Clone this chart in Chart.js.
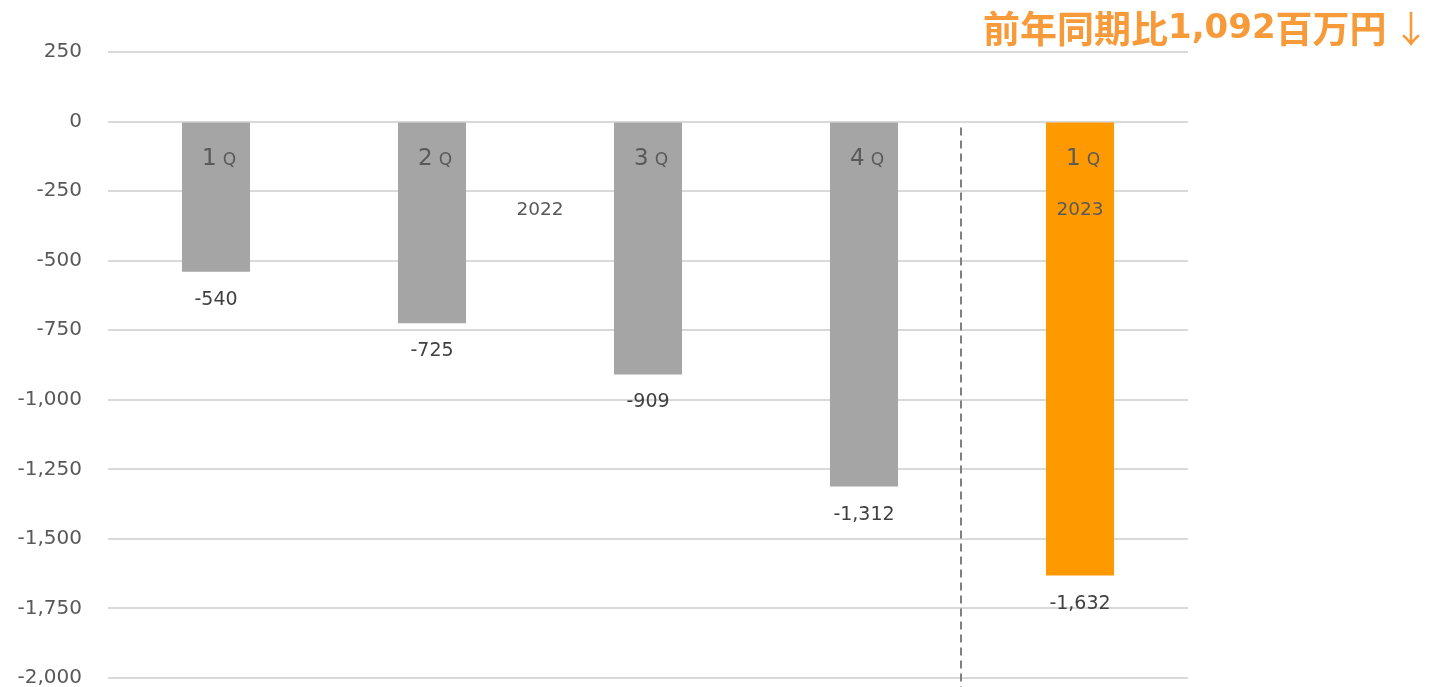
<!DOCTYPE html>
<html>
<head>
<meta charset="utf-8">
<script src="https://cdn.jsdelivr.net/npm/chart.js@4/dist/chart.umd.min.js"></script>
<style>
  body { margin: 0; background: #fff; }
  canvas { display: block; }
</style>
</head>
<body>
<canvas id="lossChart" width="1429" height="687"></canvas>
<script>
// ---------------- DATA ----------------
const categories = ["2022 1Q", "2022 2Q", "2022 3Q", "2022 4Q", "2023 1Q"];
const quarterNums = ["1", "2", "3", "4", "1"];
const values = [-540, -725, -909, -1312, -1632];
const yearLabels = ["2022", "2023"];
const yTicks = [250, 0, -250, -500, -750, -1000, -1250, -1500, -1750, -2000];
// headline split so digits can use a wider face
const headlineParts = ["前年同期比", "1,092", "百万円", "↓"];

const barColors = ["#A5A5A5", "#A5A5A5", "#A5A5A5", "#A5A5A5", "#FF9900"];
const fmt = v => v.toLocaleString("en-US");

// ---------------- LABELS PLUGIN ----------------
const labelPlugin = {
    id: "labels",
    afterDatasetsDraw(chart) {
        const { ctx } = chart;
        const x = chart.scales.x;
        const y = chart.scales.y;
        const zero = y.getPixelForValue(0);
        const bars = chart.getDatasetMeta(0).data;

        ctx.save();
        ctx.textBaseline = "middle";

        bars.forEach((bar, i) => {
            // value under bar
            ctx.font = "19px 'DejaVu Sans'";
            ctx.fillStyle = "#404040";
            ctx.textAlign = "center";
            ctx.fillText(fmt(values[i]), bar.x, bar.y + 28);

            // "1Q" in bar top
            ctx.fillStyle = "#595959";
            ctx.textBaseline = "alphabetic";
            ctx.font = "23px 'DejaVu Sans'";
            const numW = ctx.measureText(quarterNums[i]).width;
            ctx.font = "17px 'DejaVu Sans'";
            const qW = ctx.measureText("Q").width;
            const gap = 6;
            const startX = bar.x + 3 - (numW + gap + qW) / 2;
            ctx.textAlign = "left";
            ctx.font = "23px 'DejaVu Sans'";
            ctx.fillText(quarterNums[i], startX, zero + 43);
            ctx.font = "17px 'DejaVu Sans'";
            ctx.fillText("Q", startX + numW + gap, zero + 43);
            ctx.textBaseline = "middle";
        });

        // year labels
        ctx.font = "18.5px 'DejaVu Sans'";
        ctx.fillStyle = "#595959";
        ctx.textAlign = "center";
        const x2022 = (x.getPixelForValue(1) + x.getPixelForValue(2)) / 2;
        ctx.fillText(yearLabels[0], x2022, zero + 89);
        ctx.fillText(yearLabels[1], x.getPixelForValue(4), zero + 89);

        // divider
        const dx = Math.round(x.getPixelForValue(3.45));
        ctx.strokeStyle = "#808080";
        ctx.lineWidth = 2;
        ctx.setLineDash([8, 5]);
        ctx.beginPath();
        ctx.moveTo(dx, zero + 6);
        ctx.lineTo(dx, chart.height);
        ctx.stroke();
        ctx.setLineDash([]);

        // headline
        const fonts = [
            "bold 37px 'Noto Sans CJK JP'",
            "bold 34px 'DejaVu Sans'",
            "bold 37px 'Noto Sans CJK JP'",
            "37px 'Noto Sans CJK JP'"
        ];
        ctx.fillStyle = "#F79A3A";
        ctx.textAlign = "left";
        let hx = 983;
        headlineParts.forEach((part, i) => {
            ctx.font = fonts[i];
            if (i === 3) hx += 6;
            ctx.fillText(part, hx, 29);
            hx += ctx.measureText(part).width;
        });

        ctx.restore();
    }
};

// ---------------- CHART ----------------
new Chart(document.getElementById("lossChart"), {
    type: "bar",
    data: {
        labels: categories,
        datasets: [{
            data: values,
            backgroundColor: barColors,
            borderWidth: 0,
            barPercentage: 0.315,
            categoryPercentage: 1
        }]
    },
    options: {
        responsive: false,
        animation: false,
        layout: { padding: { top: 52, bottom: 9, left: 0, right: 241 } },
        plugins: {
            legend: { display: false },
            tooltip: { enabled: false }
        },
        scales: {
            x: { display: false },
            y: {
                min: -2000,
                max: 250,
                afterFit(scale) {
                    scale.width = 108;
                    scale.paddingTop = 0;
                    scale.paddingBottom = 0;
                },
                afterBuildTicks(scale) { scale.ticks = yTicks.map(v => ({ value: v })); },
                border: { display: false },
                grid: { color: "#D9D9D9", lineWidth: 2, drawTicks: false },
                ticks: {
                    padding: 26,
                    color: "#595959",
                    font: { family: "DejaVu Sans", size: 20 },
                    callback: v => fmt(v)
                }
            }
        }
    },
    plugins: [labelPlugin]
});
</script>
</body>
</html>
